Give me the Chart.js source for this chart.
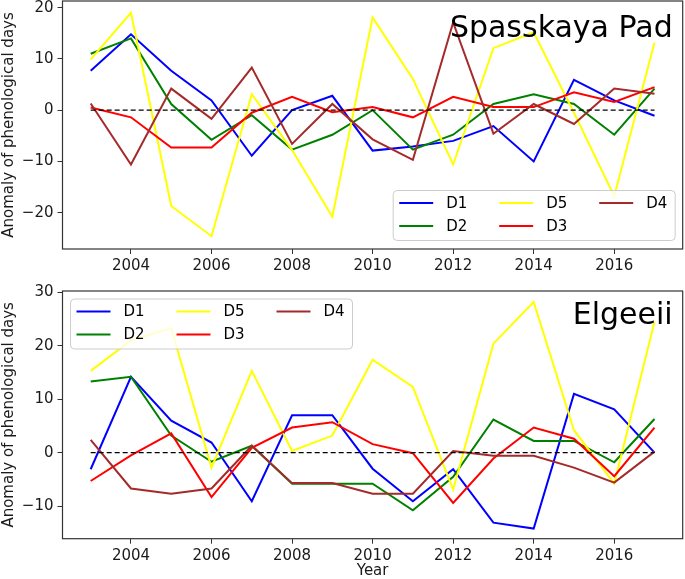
<!DOCTYPE html>
<html>
<head>
<meta charset="utf-8">
<title>Anomaly of phenological days</title>
<script src="https://cdn.jsdelivr.net/npm/chart.js@4.4.0/dist/chart.umd.min.js"></script>
<style>
  html, body { margin: 0; padding: 0; background: #fff; }
  #wrap { position: relative; width: 685px; height: 579px; overflow: hidden; }
  .panel { position: absolute; left: 0; width: 685px; }
  #topPanel { top: 0; height: 272px; }
  #bottomPanel { top: 272px; height: 307px; }
</style>
</head>
<body>
<div id="wrap">
  <div class="panel" id="topPanel"><canvas id="spasskayaChart" width="685" height="272"></canvas></div>
  <div class="panel" id="bottomPanel"><canvas id="elgeeiiChart" width="685" height="307"></canvas></div>
</div>
<script>
// ==========================================
// DATA
// ==========================================
const years = [2003, 2004, 2005, 2006, 2007, 2008, 2009, 2010, 2011, 2012, 2013, 2014, 2015, 2016, 2017];
const xTicks = [2004, 2006, 2008, 2010, 2012, 2014, 2016];
const baselineYears = [2003, 2017];
const baselineValues = [0, 0];

// Spasskaya Pad
const spD1 = [7.7, 14.8, 7.7, 1.9, -8.9, 0.0, 2.8, -7.9, -7.1, -6.0, -3.1, -10.0, 5.9, 1.9, -1.1];
const spD2 = [11.0, 14.0, 1.2, -5.8, -1.0, -7.7, -4.8, 0.0, -7.7, -4.8, 1.2, 3.1, 1.2, -4.8, 4.2];
const spD5 = [9.9, 19.0, -18.7, -24.6, 3.1, -7.8, -20.8, 18.1, 6.1, -10.6, 12.1, 15.2, -0.5, -16.8, 13.2];
const spD3 = [0.5, -1.4, -7.3, -7.3, -0.5, 2.6, -0.4, 0.6, -1.4, 2.6, 0.6, 0.6, 3.5, 1.6, 4.5];
const spD4 = [1.3, -10.6, 4.2, -1.7, 8.3, -6.6, 1.2, -5.7, -9.7, 17.1, -4.6, 1.2, -2.7, 4.2, 3.2];
const spYTicks = [-20, -10, 0, 10, 20];

// Elgeeii
const elD1 = [-3.1, 14.2, 6.0, 1.9, -9.1, 7.0, 7.0, -3.0, -9.1, -3.1, -13.1, -14.2, 11.0, 8.1, 0.0];
const elD2 = [13.3, 14.2, 3.2, -1.7, 1.3, -5.8, -5.8, -5.8, -10.8, -4.5, 6.2, 2.2, 2.2, -1.8, 6.3];
const elD5 = [15.3, 21.0, 23.3, -2.8, 15.3, 0.3, 3.2, 17.4, 12.3, -6.9, 20.4, 28.2, 4.2, -5.8, 24.5];
const elD3 = [-5.3, -0.5, 3.6, -8.3, 0.9, 4.7, 5.7, 1.6, -0.1, -9.4, -1.1, 4.7, 2.6, -4.4, 4.7];
const elD4 = [2.4, -6.7, -7.7, -6.7, 1.3, -5.7, -5.7, -7.7, -7.7, 0.3, -0.6, -0.6, -2.8, -5.6, 0.2];
const elYTicks = [-10, 0, 10, 20, 30];

// legend order is column-major like matplotlib: D1, D2 | D5, D3 | D4
const seriesLabels = ['D1', 'D2', 'D5', 'D3', 'D4'];
const seriesColors = ['#0000ff', '#008000', '#ffff00', '#ff0000', '#a52a2a'];

Chart.defaults.font.family = "'DejaVu Sans', sans-serif";
Chart.defaults.font.size = 15;
Chart.defaults.color = '#1a1a1a';

// ==========================================
// PLUGINS
// ==========================================
function roundedBox(ctx, x, y, w, h, r) {
    ctx.beginPath();
    ctx.moveTo(x + r, y);
    ctx.arcTo(x + w, y, x + w, y + h, r);
    ctx.arcTo(x + w, y + h, x, y + h, r);
    ctx.arcTo(x, y + h, x, y, r);
    ctx.arcTo(x, y, x + w, y, r);
    ctx.closePath();
}

const panelDecor = {
    id: 'panelDecor',
    afterDatasetsDraw(chart, args, opts) {
        const { ctx, chartArea } = chart;
        ctx.save();

        // axes frame
        ctx.strokeStyle = '#333';
        ctx.lineWidth = 1.2;
        ctx.strokeRect(chartArea.left, chartArea.top, chartArea.right - chartArea.left, chartArea.bottom - chartArea.top);

        // site name
        ctx.fillStyle = '#000';
        ctx.font = "30px 'DejaVu Sans', sans-serif";
        ctx.textAlign = 'right';
        ctx.textBaseline = 'alphabetic';
        ctx.fillText(opts.siteName, chartArea.right - 10, chartArea.top + opts.nameBaseline);

        // legend box
        const w = 282, h = 50;
        const x0 = opts.corner === 'lower right' ? chartArea.right - 7.5 - w : chartArea.left + 8;
        const y0 = opts.corner === 'lower right' ? chartArea.bottom - 8.5 - h : chartArea.top + 8;
        roundedBox(ctx, x0, y0, w, h, 4);
        ctx.fillStyle = 'rgba(255,255,255,0.8)';
        ctx.fill();
        ctx.strokeStyle = '#cccccc';
        ctx.lineWidth = 1;
        ctx.stroke();

        ctx.font = "15px 'DejaVu Sans', sans-serif";
        ctx.textAlign = 'left';
        ctx.textBaseline = 'middle';
        chart.data.datasets.filter(ds => !ds.isBaseline).forEach((ds, i) => {
            const col = Math.floor(i / 2), row = i % 2;
            const cx = x0 + 6 + col * 100;
            const cy = y0 + 12.5 + row * 23;
            ctx.strokeStyle = ds.borderColor;
            ctx.lineWidth = ds.borderWidth;
            ctx.beginPath();
            ctx.moveTo(cx, cy);
            ctx.lineTo(cx + 34, cy);
            ctx.stroke();
            ctx.fillStyle = '#000';
            ctx.fillText(ds.label, cx + 47, cy + 1);
        });
        ctx.restore();
    }
};

// ==========================================
// CHART BUILDER
// ==========================================
function fmtTick(v) {
    return v < 0 ? '\u2212' + Math.abs(v) : String(v);
}

// drop the label overhang padding so the plot box sits where layout.padding puts it
function noOverhang(scale) {
    scale.paddingTop = 0;
    scale.paddingBottom = 0;
    scale.paddingLeft = 0;
    scale.paddingRight = 0;
}

function renderPanel(canvasId, cfg) {
    const ctx = document.getElementById(canvasId).getContext('2d');

    const datasets = cfg.series.map((values, i) => ({
        label: seriesLabels[i],
        data: years.map((yr, k) => ({ x: yr, y: values[k] })),
        borderColor: seriesColors[i],
        borderWidth: 2,
        pointRadius: 0,
        tension: 0,
        fill: false,
        order: cfg.series.length - i + 1
    }));
    datasets.push({
        label: '',
        isBaseline: true,
        data: baselineYears.map((yr, k) => ({ x: yr, y: baselineValues[k] })),
        borderColor: '#000',
        borderWidth: 1.2,
        borderDash: [5, 3],
        pointRadius: 0,
        order: 0
    });

    return new Chart(ctx, {
        type: 'line',
        data: { datasets: datasets },
        plugins: [panelDecor],
        options: {
            responsive: false,
            animation: false,
            devicePixelRatio: 1,
            layout: { padding: { left: 0, right: 2.3, top: cfg.padTop, bottom: 0 } },
            plugins: {
                legend: { display: false },
                tooltip: { enabled: false },
                panelDecor: { siteName: cfg.siteName, nameBaseline: cfg.nameBaseline, corner: cfg.corner }
            },
            scales: {
                x: {
                    type: 'linear',
                    min: 2002.3,
                    max: 2017.7,
                    afterBuildTicks: scale => { scale.ticks = xTicks.map(v => ({ value: v })); },
                    afterFit: scale => { scale.height = cfg.xAxisHeight; noOverhang(scale); },
                    grid: { drawOnChartArea: false, drawTicks: true, tickLength: 5, color: '#333' },
                    border: { display: false },
                    ticks: { padding: 3, maxRotation: 0, autoSkip: false, callback: v => String(v) },
                    title: {
                        display: !!cfg.xTitle,
                        text: cfg.xTitle || '',
                        padding: { top: 0, bottom: 0 },
                        font: { size: 15, lineHeight: 1.0 }
                    }
                },
                y: {
                    min: cfg.yMin,
                    max: cfg.yMax,
                    afterBuildTicks: scale => { scale.ticks = cfg.yTicks.map(v => ({ value: v })); },
                    afterFit: scale => { scale.width = 62.5; noOverhang(scale); },
                    grid: { drawOnChartArea: false, drawTicks: true, tickLength: 5, color: '#333' },
                    border: { display: false },
                    ticks: { padding: 4, callback: v => fmtTick(v) },
                    title: {
                        display: true,
                        text: 'Anomaly of phenological days',
                        padding: { top: 0, bottom: 0 },
                        font: { size: 15 }
                    }
                }
            }
        }
    });
}

renderPanel('spasskayaChart', {
    series: [spD1, spD2, spD5, spD3, spD4],
    siteName: 'Spasskaya Pad',
    nameBaseline: 36,
    corner: 'lower right',
    yMin: -27.1,
    yMax: 21.3,
    yTicks: spYTicks,
    padTop: 1,
    xAxisHeight: 23,
    xTitle: null
});

renderPanel('elgeeiiChart', {
    series: [elD1, elD2, elD5, elD3, elD4],
    siteName: 'Elgeeii',
    nameBaseline: 33,
    corner: 'upper left',
    yMin: -16.1,
    yMax: 30.25,
    yTicks: elYTicks,
    padTop: 19,
    xAxisHeight: 40.3,
    xTitle: 'Year'
});
</script>
</body>
</html>
